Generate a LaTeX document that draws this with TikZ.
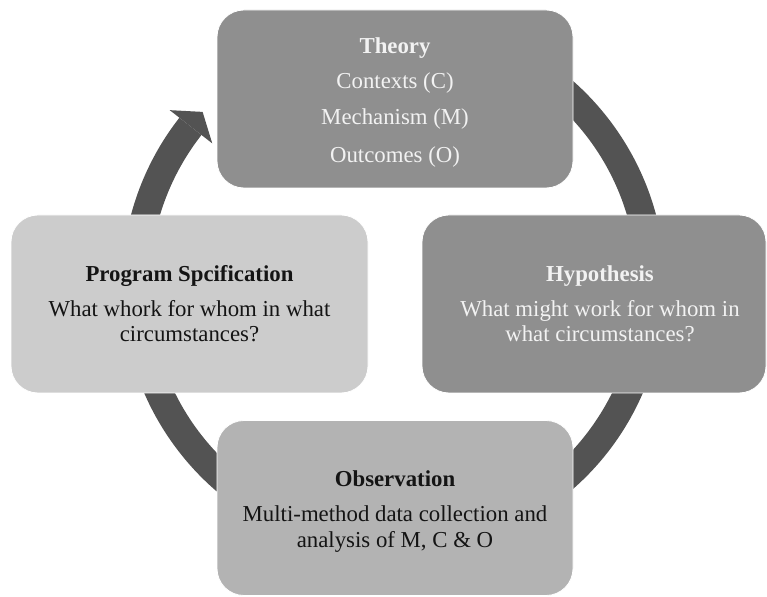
\documentclass[tikz,border=0pt]{standalone}
\usepackage{fontspec}
\setmainfont{Liberation Serif}
\definecolor{ringgray}{RGB}{83,83,83}
\definecolor{darkbox}{RGB}{143,143,143}
\definecolor{midbox}{RGB}{179,179,179}
\definecolor{lightbox}{RGB}{204,204,204}
\definecolor{paletext}{RGB}{242,242,242}
\definecolor{inktext}{RGB}{20,20,20}
\begin{document}
\begin{tikzpicture}[x=1pt,y=1pt,
  stage/.style={rectangle, rounded corners=27pt, draw=white, line width=0.8pt,
    inner sep=0pt, minimum width=#1},
  title/.style={anchor=base, font=\fontsize{22.8}{25}\selectfont\bfseries},
  body/.style={anchor=base, font=\fontsize{22.8}{25}\selectfont},
  cycle/.style={fill=ringgray}]
\useasboundingbox (0,0) rectangle (767,596);

% circular arrow running clockwise through the four stages
\coordinate (c) at (393.5,311);
\begin{scope}[shift={(c)}]
  \fill[cycle] (125:271.7) arc[start angle=125, end angle=-218, radius=271.7]
    -- (-218:243.7) arc[start angle=-218, end angle=125, radius=243.7] -- cycle;
  \fill[cycle] (142:284) -- (137.8:257.7) -- (142:230) -- cycle;
\end{scope}

% stage boxes
\node[stage=356pt, minimum height=178pt, fill=darkbox]  (theory) at (395,497) {};
\node[stage=344pt, minimum height=178pt, fill=darkbox]  (hyp)    at (594,292) {};
\node[stage=357pt, minimum height=178pt, fill=lightbox] (prog)   at (189.5,292) {};
\node[stage=356pt, minimum height=175pt, fill=midbox]   (obs)    at (395,88) {};

% Theory
\node[title, text=paletext] (theoryT) at (395,542) {Theory};
\node[body, text=paletext]  (theory1) at (395,507) {Contexts (C)};
\node[body, text=paletext]  (theory2) at (395,471) {Mechanism (M)};
\node[body, text=paletext]  (theory3) at (395,433) {Outcomes (O)};

% Hypothesis
\node[title, text=paletext] (hypT) at (600,314) {Hypothesis};
\node[body, text=paletext]  (hyp1) at (600,279) {What might work for whom in};
\node[body, text=paletext]  (hyp2) at (600,254) {what circumstances?};

% Program specification
\node[title, text=inktext] (progT) at (189.5,314) {Program Spcification};
\node[body, text=inktext]  (prog1) at (189.5,279) {What whork for whom in what};
\node[body, text=inktext]  (prog2) at (189.5,254) {circumstances?};

% Observation
\node[title, text=inktext] (obsT) at (395,109) {Observation};
\node[body, text=inktext]  (obs1) at (395,74) {Multi-method data collection and};
\node[body, text=inktext]  (obs2) at (395,48) {analysis of M, C \& O};
\end{tikzpicture}
\end{document}
